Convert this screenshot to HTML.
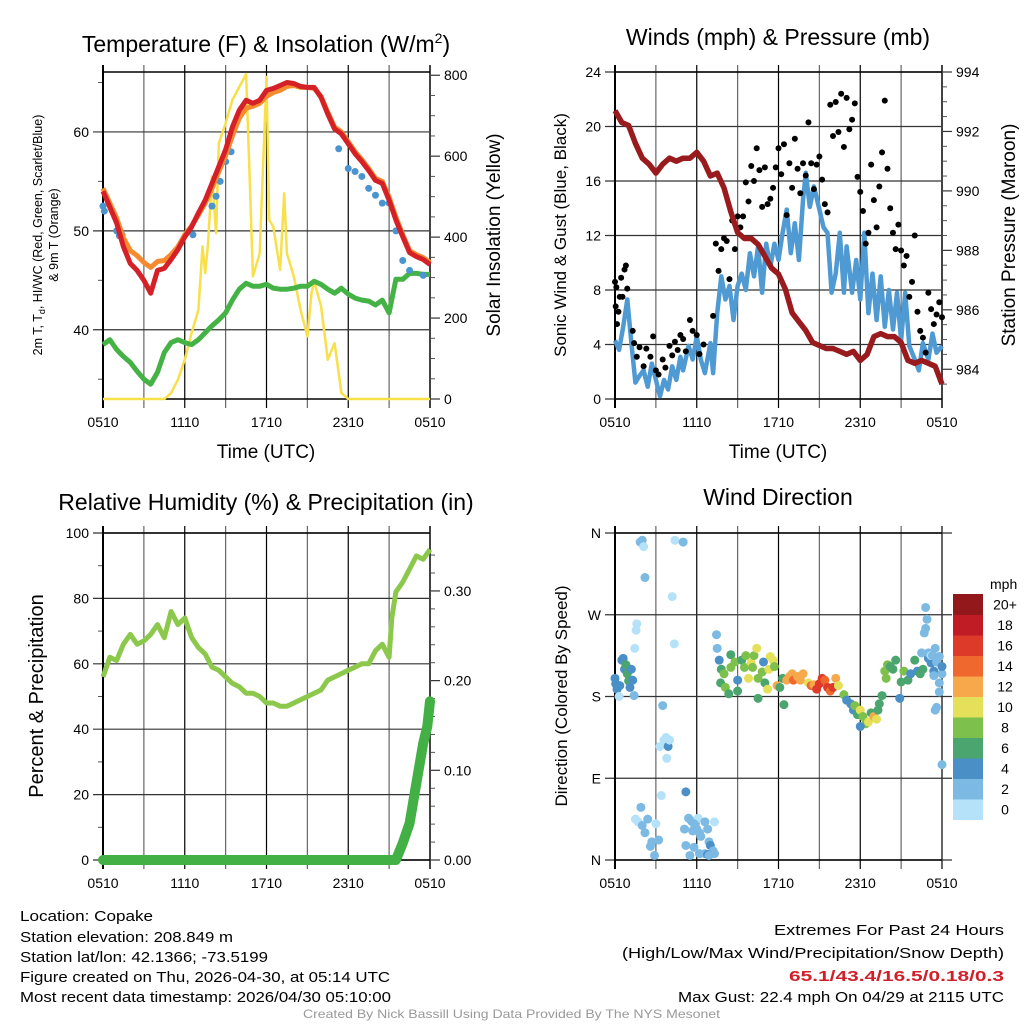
<!DOCTYPE html>
<html><head><meta charset="utf-8">
<style>
html,body{margin:0;padding:0;background:#fff;}
svg{display:block;font-family:"Liberation Sans",sans-serif;}
</style></head>
<body>
<svg id="fig" width="1024" height="1024" viewBox="0 0 1024 1024" xmlns="http://www.w3.org/2000/svg">
<rect width="1024" height="1024" fill="#fff"/>
<g id="layer"></g>
<text x="266" y="52" font-size="23" text-anchor="middle">Temperature (F) &amp; Insolation (W/m<tspan font-size="14" dy="-9">2</tspan><tspan dy="9">)</tspan></text>
<text x="778" y="45" font-size="23" text-anchor="middle">Winds (mph) &amp; Pressure (mb)</text>
<text x="266" y="510" font-size="23" text-anchor="middle">Relative Humidity (%) &amp; Precipitation (in)</text>
<text x="778" y="505" font-size="23" text-anchor="middle">Wind Direction</text>

<text x="266" y="458" font-size="19" text-anchor="middle">Time (UTC)</text>
<text x="778" y="458" font-size="19" text-anchor="middle">Time (UTC)</text>

<text transform="translate(42,235) rotate(-90)" font-size="12.5" text-anchor="middle">2m T, T<tspan font-size="9" dy="3">d</tspan><tspan dy="-3">, HI/WC (Red, Green, Scarlet/Blue)</tspan></text>
<text transform="translate(58,235) rotate(-90)" font-size="12.5" text-anchor="middle">&amp; 9m T (Orange)</text>
<text transform="translate(500,235) rotate(-90)" font-size="19" text-anchor="middle">Solar Insolation (Yellow)</text>
<text transform="translate(566,235) rotate(-90)" font-size="17" text-anchor="middle">Sonic Wind &amp; Gust (Blue, Black)</text>
<text transform="translate(1015,235) rotate(-90)" font-size="19" text-anchor="middle">Station Pressure (Maroon)</text>
<text transform="translate(43,696) rotate(-90)" font-size="20" text-anchor="middle">Percent &amp; Precipitation</text>
<text transform="translate(567,696) rotate(-90)" font-size="17" text-anchor="middle">Direction (Colored By Speed)</text>

<g font-size="15">
<text x="20" y="921" textLength="133" lengthAdjust="spacingAndGlyphs">Location: Copake</text>
<text x="20" y="942" textLength="213" lengthAdjust="spacingAndGlyphs">Station elevation: 208.849 m</text>
<text x="20" y="962" textLength="248" lengthAdjust="spacingAndGlyphs">Station lat/lon: 42.1366; -73.5199</text>
<text x="20" y="982" textLength="370" lengthAdjust="spacingAndGlyphs">Figure created on Thu, 2026-04-30, at 05:14 UTC</text>
<text x="20" y="1002" textLength="371" lengthAdjust="spacingAndGlyphs">Most recent data timestamp: 2026/04/30 05:10:00</text>
</g>
<g font-size="15">
<text x="774" y="935" textLength="230" lengthAdjust="spacingAndGlyphs">Extremes For Past 24 Hours</text>
<text x="622" y="958" textLength="382" lengthAdjust="spacingAndGlyphs">(High/Low/Max Wind/Precipitation/Snow Depth)</text>
<text x="789" y="981" textLength="215" lengthAdjust="spacingAndGlyphs" fill="#d0202a" font-weight="bold">65.1/43.4/16.5/0.18/0.3</text>
<text x="678" y="1002" textLength="326" lengthAdjust="spacingAndGlyphs">Max Gust: 22.4 mph On 04/29 at 2115 UTC</text>
</g>
<text x="303" y="1018" font-size="12" fill="#999" textLength="417" lengthAdjust="spacingAndGlyphs">Created By Nick Bassill Using Data Provided By The NYS Mesonet</text>
</svg>
<script>
// ---------- DATA ----------
const xTickLabels = ["0510","1110","1710","2310","0510"];
const tempHours = [0,0.5,1,1.5,2,2.5,3,3.5,4,4.5,5,5.5,6,6.5,7,7.5,8,8.5,9,9.5,10,10.5,11,11.5,12,12.5,13,13.5,14,14.5,15,15.5,16,16.5,17,17.5,18,18.5,19,19.5,20,20.5,21,21.5,22,22.5,23,23.5,24];
const temp2m = [54,52.4,50.8,48.4,46.7,46,45,43.7,46,46.2,47.1,48.1,49.4,50.4,51.8,53.1,54.8,56.5,58.2,60.5,62.2,63.2,62.9,63.2,64.2,64.4,64.7,65,64.9,64.6,64.5,64.5,63.5,61.8,60.3,59.8,58.8,57.8,57,56.1,55.1,54.8,53.1,51.1,49.4,47.8,47.4,47.1,46.6];
const temp9m = [54.3,52.8,51.3,49.3,48,47.5,46.8,46.3,46.9,47,47.6,48.4,49.6,50.5,51.6,52.8,54.3,56,57.6,59.6,61.4,62.4,62.6,62.9,63.6,64,64.2,64.6,64.7,64.5,64.5,64.4,63.6,62,60.5,60,59,58,57.2,56.3,55.3,55,53.4,51.4,49.6,48,47.6,47.3,46.8];
const dewpoint = [38.5,39,38,37.3,36.7,35.8,35,34.5,35.7,37.7,38.7,39,38.7,38.5,39,39.7,40.4,41,41.7,43,44.1,44.7,44.4,44.4,44.6,44.2,44.1,44.1,44.2,44.4,44.4,44.9,44.6,44.1,43.7,44.2,43.6,43.2,43,42.9,42.5,43,41.7,45.1,45.1,45.7,45.7,45.6,45.6];
const heatIdxHours = [0,0.1,1,1.2,1.4,6.6,8,8.3,8.6,9,9.4,17.3,18,18.5,19,19.5,20,20.5,21,21.5,22,22.5,23.5];
const heatIdx = [52.5,52,50,49.5,49.6,49.6,52.5,53.5,55,57,58,58.3,56.3,56,55.5,54.3,53.6,52.8,52.8,50,47,46,45.5];
const solarHours = [0,4.5,5,5.5,6,6.5,7,7.3,7.5,7.7,8,8.3,8.5,9,9.5,10,10.5,10.8,11,11.5,12,12.2,12.5,13,13.3,13.5,14,14.5,15,15.3,15.5,16,16.5,17,17.5,18,24];
const solar = [0,0,15,48,97,163,220,377,311,380,549,410,632,681,739,771,803,508,303,360,796,442,426,319,508,360,303,220,155,262,290,230,97,138,15,0,0];

const windHours = [0,0.3,0.6,0.9,1.2,1.5,1.8,2.1,2.4,2.7,3,3.3,3.6,3.9,4.2,4.5,4.8,5,5.4,5.7,6,6.3,6.6,7,7.2,7.5,7.8,8.1,8.4,8.7,9,9.3,9.6,9.9,10.2,10.5,10.8,11.1,11.4,11.7,12,12.3,12.6,12.9,13.2,13.5,13.8,14,14.3,14.6,15,15.3,15.6,15.9,16.2,16.5,16.8,17,17.4,17.7,18,18.3,18.6,18.9,19.2,19.5,19.8,20.1,20.4,20.7,21,21.3,21.6,22,22.3,22.6,23,23.3,23.6,24];
const windSpeed = [4.3,3.6,5.3,7.3,4.1,1.2,1.7,2.1,0.9,2.6,1.4,0.2,1.4,0.7,2.4,1.4,3.1,2.1,3.9,2.9,4.6,2.9,1.9,4.1,1.9,6.3,9,7.3,8.3,5.8,8.3,9.2,8,10.7,9,11.2,7.8,11.4,9.7,11.4,10.2,12.2,13.9,10.7,12.9,10.2,14.6,16.6,14.1,15.6,13.9,12.6,12.2,7.8,9.2,12.2,7.8,11.2,7.8,10.2,7.3,12.2,6.3,9.2,5.8,9,5.3,8,5.1,7.8,4.3,7.8,3.9,2.9,2.1,4.1,2.9,4.8,3.4,3.9];
const gustHours = [0,0.05,0.1,0.15,0.25,0.35,0.45,0.55,0.7,0.8,0.9,1.3,1.4,1.6,1.8,2.1,2.3,2.6,2.8,3,3.2,3.5,3.7,4,4.2,4.4,4.6,4.8,5,5.2,5.5,5.7,6,6.2,6.5,7.2,7.4,7.6,7.8,8,8.2,8.4,8.6,8.8,9,9.2,9.4,9.6,9.8,10,10.2,10.4,10.6,10.8,11,11.2,11.4,11.6,11.8,12,12.2,12.4,12.6,12.8,13,13.2,13.4,13.6,13.8,14,14.2,14.4,14.6,14.8,15,15.2,15.4,15.6,15.8,16,16.2,16.4,16.6,16.8,17,17.2,17.4,17.6,17.8,18,18.2,18.4,18.6,18.8,19,19.2,19.4,19.6,19.8,20,20.2,20.4,20.6,20.8,21,21.2,21.4,21.6,21.8,22,22.2,22.4,22.6,22.8,23,23.2,23.4,23.6,23.8,24];
const gustSpeed = [8.6,6.8,8.2,5.5,6.4,7.5,8.9,7.5,9.5,9.8,8.1,5,4.1,3.1,3.8,2.4,3.7,3.1,4.6,2.1,1.8,2.9,2.3,3.9,3.2,4.2,3.6,4.7,4.4,3.5,5.8,5,4.7,3.3,4,6.1,11.4,9.4,11,11.8,11.6,8.8,13.1,11,13.4,12.6,13.4,15.9,14.5,17.1,16,18.4,16.8,14.1,17,14.3,14.7,15.5,17,18.4,16.5,18.7,13.5,17.3,15.5,19.1,16.9,15.1,17.3,16.4,20.3,17.3,15.4,17.2,17.8,16.1,14.3,13.7,21.6,19.3,21.8,19.6,22.4,18.5,22.1,19.8,20.5,21.7,16.3,15.2,13.8,11.4,12.2,17.2,14.6,12.6,15.6,18.1,21.9,16.9,14,12.2,11,12.8,10.9,9.8,10.5,7.5,8.6,12,6.4,5,4.5,3.4,7.8,6.6,5.5,6.2,7.1,6];
const pressHours = [0,0.5,1,1.5,2,2.5,3,3.5,4,4.5,5,5.5,6,6.5,7,7.5,8,8.5,9,9.5,10,10.5,11,11.5,12,12.5,13,13.5,14,14.5,15,15.5,16,16.5,17,17.5,18,18.5,19,19.5,20,20.5,21,21.5,22,22.5,23,23.5,24];
const pressure = [992.7,992.3,992.2,991.6,991.1,990.9,990.6,990.9,991.1,991,991.1,991.1,991.3,991,990.5,990.6,990.1,989.3,988.6,988.4,988.4,988.2,987.8,987.4,987.2,986.7,985.9,985.6,985.3,984.9,984.8,984.7,984.7,984.6,984.5,984.6,984.3,984.5,985.1,985.2,985.1,985.1,984.9,984.3,984.2,984.3,984.2,984.1,983.5];

const rhHours = [0,0.5,1,1.5,2,2.5,3,3.5,4,4.5,5,5.5,6,6.5,7,7.5,8,8.5,9,9.5,10,10.5,11,11.5,12,12.5,13,13.5,14,14.5,15,15.5,16,16.5,17,17.5,18,18.5,19,19.5,20,20.5,21,21.2,21.5,22,22.5,23,23.5,24];
const rh = [56,62,61,66,69,66,67,69,72,68,76,72,74,68,65,63,59,58,56,54,53,51,51,50,48,48,47,47,48,49,50,51,52,55,56,57,58,59,60,60,64,66,62,74,82,85,89,93,92,95];
const precipHours = [0,21.5,22,22.5,23,23.5,23.8,24];
const precip = [0,0,0.019,0.041,0.086,0.13,0.149,0.177];

const dirHours = [0,0.05,0.15,0.3,0.35,0.5,0.6,0.7,0.8,0.9,1,1.1,1.2,1.3,1.4,1.45,1.55,1.6,1.85,2,2.1,2.2,1.5,1.7,1.9,2,2.2,2.4,2.6,2.7,3,2.9,3.2,3.4,3.3,3.5,3.6,3.75,3.9,4,3.8,4.2,4.35,4.4,5,5.2,5.4,5.6,5.9,6.1,6.2,5.8,5.7,6.3,6.6,6.8,6.9,7,7.2,6.6,6.2,5.8,5.5,5.2,6.8,7.3,6,5.1,7.3,6.9,7.45,7.5,7.65,7.8,7.75,8,8.1,8.35,8.5,8.5,8.8,9,9,9.3,9.5,9.6,9.8,10,10.1,10.2,10.4,10.5,10.5,10.8,10.9,11,11.2,11.3,11.4,11.6,11.7,11.9,12.1,12.3,12.4,12.6,12.8,13,13.1,13.4,13.6,13.8,14.2,14.4,14.6,14.8,15,15.2,15.4,15.6,15.8,16,16.2,16.4,16.8,17,17.3,17.5,17.6,17.8,18,18.2,18.4,18.6,18.8,19,19.2,18,19.3,19.4,19.6,19.8,19.9,20,20.2,20.4,20.6,20.9,21,21.2,21.5,21.7,22,22.2,22.4,22.6,23,23.2,23.4,23.6,23.8,24,23.8,24,22.5,22.7,22.8,22.9,23,23.2,23.5,23.3,23.4,23.6,23.5,23.8,24,22.8];
const dirDeg = [200,194,188,180,192,220,222,210,215,205,197,190,210,198,181,233,253,260,350,352,345,311,45,42,58,38,30,45,15,20,40,5,22,71,125,170,132,135,125,132,112,290,238,352,350,75,46,43,40,46,30,40,32,26,42,34,20,16,10,7,7,14,5,16,6,7,34,34,42,5,248,233,220,210,195,205,190,183,212,226,218,198,186,220,212,225,200,217,212,225,233,200,178,207,218,195,188,210,224,220,213,192,190,200,171,198,202,205,198,202,198,205,195,192,193,188,194,200,198,190,186,190,200,192,182,176,172,165,170,160,165,158,150,152,162,158,155,147,165,172,181,208,200,215,213,210,220,178,196,208,198,205,220,208,205,210,222,217,208,218,195,205,224,213,228,250,255,265,228,225,233,225,203,168,165,185,105,278];
const dirSpeed = [4.5,4.5,4,1,5,4.5,4.5,5,6.5,6.5,6,4,4,4.5,3,1,1,1,3,3,1,3,1.5,1.5,2.5,2.5,2.5,2,3,3,1,2.5,3,1,1,3,1,1,4,1,1,1,1,1,3,4,2,2,2.5,1,2,2,2,2,3,2,3,4,3,3,2,3,2.5,2.5,4,2.5,2,2,1,2,3,3.5,4,6,7,8,8,7,8,6,8,5,7,7.5,8,8.5,10,10,8.5,9,10.5,8,7,8,5,7,10,10,10,10,9,12,6,7,6,12,13,13,14,12,12,12,11,14,12.5,17,17,16,14,16,15,16.5,12,10,9,5,5,4.5,8,7,10,9,8,10,7,12,10,4,6,6,6,9,8,8,6,7,7,4,6.5,9,6.5,4,7.5,4,7,6,4,4,4,3,3,3,3.5,4.5,3,2,3,2,2,1.5,2,3,3,3.5,2,2,2.5,2];
const speedBins = ["0","2","4","6","8","10","12","14","16","18","20+"];
const speedColors = ["#b5e2f8","#7cb9e3","#4a8fc6","#4aa56e","#7dc04b","#e4e05a","#f6a84a","#ef682e","#de3a2a","#bf1c25","#93181c"];

// ---------- HELPERS ----------
const NS = "http://www.w3.org/2000/svg";
const layer = document.getElementById('layer');
function mk(tag, attrs, parent) {
  const e = document.createElementNS(NS, tag);
  for (const k in attrs) e.setAttribute(k, attrs[k]);
  (parent || layer).appendChild(e);
  return e;
}
function panelScale(p) {
  return {
    x: h => p.x0 + h / 24 * (p.x1 - p.x0),
    yl: v => p.y1 - (v - p.lmin) / (p.lmax - p.lmin) * (p.y1 - p.y0),
    yr: v => p.y1 - (v - p.rmin) / (p.rmax - p.rmin) * (p.y1 - p.y0)
  };
}
function drawFrame(p, s, name) {
  const g = mk('g', {});
  
  
  // vertical grid
  for (let h = 0; h <= 24; h += 3) {
    const x = s.x(h);
    const l = mk('line', {x1: x, x2: x, y1: p.y0 - 7, y2: p.y1 + 9, stroke: (h % 6 === 0) ? '#000' : '#666', 'stroke-width': 1.2}, g);
    
    
  }
  xTickLabels.forEach((t, i) => {
    const tx = mk('text', {x: s.x(i * 6), y: p.y1 + 28, 'font-size': 14, 'text-anchor': 'middle'}, g);
    tx.textContent = t;
    
    
  });
  // left ticks + horizontal grid
  p.lticks.forEach((v, i) => {
    const y = s.yl(v);
    mk('line', {x1: p.x0 - 10, x2: p.x1 + (p.rticks ? 0 : 10), y1: y, y2: y, stroke: '#333', 'stroke-width': 1.2}, g);
    const tx = mk('text', {x: p.x0 - 14, y: y + 5, 'font-size': 14, 'text-anchor': 'end'}, g);
    tx.textContent = p.llabels[i];
    
    
  });
  (p.lminor || []).forEach(v => { const y = s.yl(v); mk('line', {x1: p.x0 - 5, x2: p.x0, y1: y, y2: y, stroke: '#555', 'stroke-width': 1}, g); });
  if (p.rticks) {
    p.rticks.forEach((v, i) => {
      const y = s.yr(v);
      mk('line', {x1: p.x1, x2: p.x1 + 10, y1: y, y2: y, stroke: '#333', 'stroke-width': 1.2}, g);
      const tx = mk('text', {x: p.x1 + 14, y: y + 5, 'font-size': 14}, g);
      tx.textContent = p.rlabels[i];
      
      
    });
    (p.rminor || []).forEach(v => { const y = s.yr(v); mk('line', {x1: p.x1, x2: p.x1 + 5, y1: y, y2: y, stroke: '#555', 'stroke-width': 1}, g); });
    mk('line', {x1: p.x1, x2: p.x1, y1: p.y0 - 7, y2: p.y1 + 9, stroke: '#444', 'stroke-width': 2}, g);
  }
  mk('line', {x1: p.x0, x2: p.x0, y1: p.y0 - 7, y2: p.y1 + 9, stroke: '#000', 'stroke-width': 2}, g);
  mk('line', {x1: p.x0, x2: p.x1, y1: p.y0, y2: p.y0, stroke: '#000', 'stroke-width': 1.5}, g);
  mk('line', {x1: p.x0, x2: p.x1, y1: p.y1, y2: p.y1, stroke: '#000', 'stroke-width': 1.5}, g);
}
function pathFrom(xs, ys, sx, sy) {
  let d = '';
  xs.forEach((h, i) => { d += (i ? 'L' : 'M') + sx(h).toFixed(1) + ',' + sy(ys[i]).toFixed(1); });
  return d;
}

// ---------- PANEL 1: TEMPERATURE ----------
const P1 = {x0: 103, x1: 430, y0: 72, y1: 399, lmin: 33.0, lmax: 66.06, rmin: 0, rmax: 808,
  lticks: [40, 50, 60], llabels: ["40", "50", "60"], lminor: [35, 45, 55, 65],
  rticks: [0, 200, 400, 600, 800], rlabels: ["0", "200", "400", "600", "800"], rminor: [50, 100, 150, 250, 300, 350, 450, 500, 550, 650, 700, 750]};
const S1 = panelScale(P1);
drawFrame(P1, S1, 'temp-panel');
let e;
e = mk('path', {d: pathFrom(solarHours, solar, S1.x, S1.yr), fill: 'none', stroke: '#f7e04a', 'stroke-width': 2.5, 'stroke-linejoin': 'round'});


e = mk('path', {d: pathFrom(tempHours, dewpoint, S1.x, S1.yl), fill: 'none', stroke: '#45b245', 'stroke-width': 5, 'stroke-linejoin': 'round'});


const hiG = mk('g', {fill: '#4a94cf'});


heatIdxHours.forEach((h, i) => { mk('circle', {cx: S1.x(h), cy: S1.yl(heatIdx[i]), r: 3.5}, hiG); });
e = mk('path', {d: pathFrom(tempHours, temp9m, S1.x, S1.yl), fill: 'none', stroke: '#f58a2e', 'stroke-width': 5, 'stroke-linejoin': 'round'});


e = mk('path', {d: pathFrom(tempHours, temp2m, S1.x, S1.yl), fill: 'none', stroke: '#d42026', 'stroke-width': 5, 'stroke-linejoin': 'round'});



// ---------- PANEL 2: WINDS ----------
const P2 = {x0: 615, x1: 942, y0: 72, y1: 399, lmin: 0, lmax: 24, rmin: 983.0, rmax: 994,
  lticks: [0, 4, 8, 12, 16, 20, 24], llabels: ["0", "4", "8", "12", "16", "20", "24"],
  rticks: [984, 986, 988, 990, 992, 994], rlabels: ["984", "986", "988", "990", "992", "994"],
  rminor: [983.5, 984.5, 985, 985.5, 986.5, 987, 987.5, 988.5, 989, 989.5, 990.5, 991, 991.5, 992.5, 993, 993.5]};
const S2 = panelScale(P2);
drawFrame(P2, S2, 'wind-panel');
e = mk('path', {d: pathFrom(windHours, windSpeed, S2.x, S2.yl), fill: 'none', stroke: '#4f9ad3', 'stroke-width': 4.5, 'stroke-linejoin': 'round'});


const gG = mk('g', {fill: '#000'});


gustHours.forEach((h, i) => { mk('circle', {cx: S2.x(h), cy: S2.yl(gustSpeed[i]), r: 3}, gG); });
e = mk('path', {d: pathFrom(pressHours, pressure, S2.x, S2.yr), fill: 'none', stroke: '#9a1b1e', 'stroke-width': 5.5, 'stroke-linejoin': 'round'});



// ---------- PANEL 3: RH ----------
const P3 = {x0: 103, x1: 430, y0: 533, y1: 860, lmin: 0, lmax: 100, rmin: 0, rmax: 0.3646,
  lticks: [0, 20, 40, 60, 80, 100], llabels: ["0", "20", "40", "60", "80", "100"], lminor: [10, 30, 50, 70, 90],
  rticks: [0, 0.1, 0.2, 0.3], rlabels: ["0.00", "0.10", "0.20", "0.30"],
  rminor: [0.02, 0.04, 0.06, 0.08, 0.12, 0.14, 0.16, 0.18, 0.22, 0.24, 0.26, 0.28, 0.32, 0.34]};
const S3 = panelScale(P3);
drawFrame(P3, S3, 'rh-panel');
e = mk('path', {d: pathFrom(rhHours, rh, S3.x, S3.yl), fill: 'none', stroke: '#8cc84b', 'stroke-width': 5, 'stroke-linejoin': 'round'});


e = mk('path', {d: pathFrom(precipHours, precip, S3.x, S3.yr), fill: 'none', stroke: '#42b045', 'stroke-width': 10, 'stroke-linejoin': 'round', 'stroke-linecap': 'round'});



// ---------- PANEL 4: DIRECTION ----------
const P4 = {x0: 615, x1: 942, y0: 533, y1: 860, lmin: 0, lmax: 360,
  lticks: [0, 90, 180, 270, 360], llabels: ["N", "E", "S", "W", "N"]};
const S4 = panelScale(P4);
drawFrame(P4, S4, 'direction-panel');
const dG = mk('g', {});


dirHours.forEach((h, i) => {
  const bin = Math.min(10, Math.floor(dirSpeed[i] / 2));
  mk('circle', {cx: S4.x(h), cy: S4.yl(dirDeg[i]), r: 4.5, fill: speedColors[bin]}, dG);
});
// colorbar
const cb = mk('g', {});


const cbTop = 594, cbH = 20.5;
const unit = mk('text', {x: 990, y: 589, 'font-size': 14}, cb);
unit.textContent = 'mph';
speedBins.forEach((lab, i) => {
  const k = speedBins.length - 1 - i;
  const y = cbTop + k * cbH;
  mk('rect', {x: 953, y: y, width: 30, height: cbH + 0.5, fill: speedColors[i]}, cb);
  const t = mk('text', {x: 1005, y: y + cbH / 2 + 5, 'font-size': 14, 'text-anchor': 'middle'}, cb);
  t.textContent = lab;
  
  
});
</script>
</body></html>
